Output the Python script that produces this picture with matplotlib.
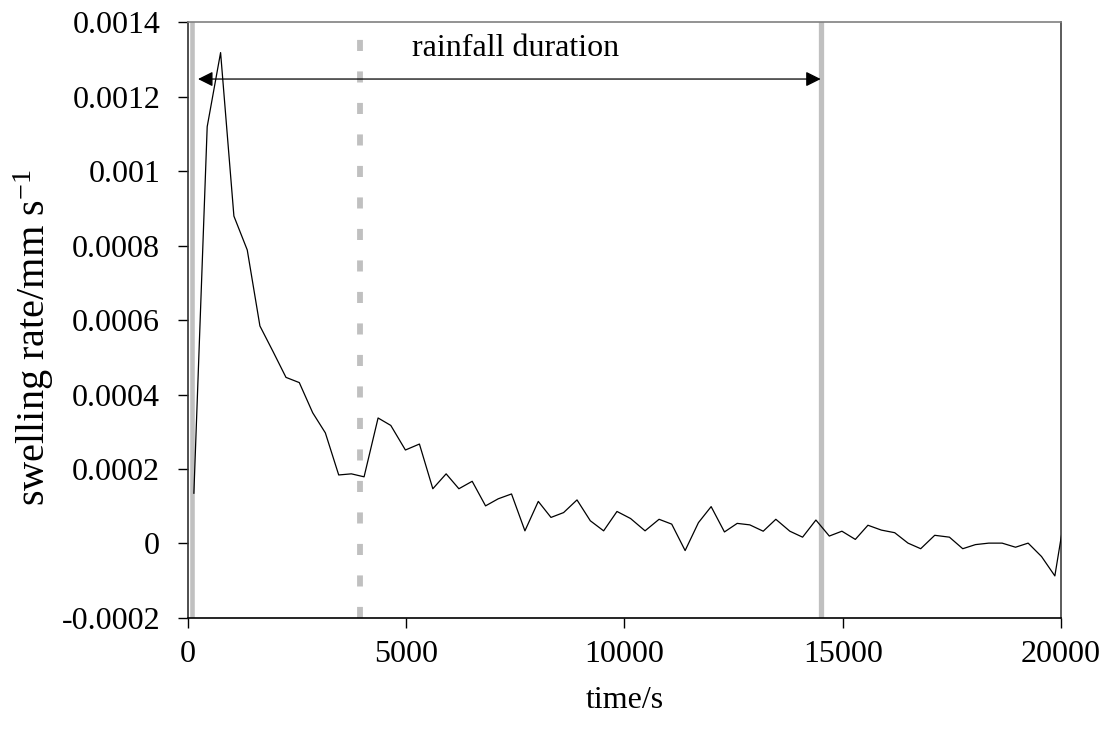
# swelling rate against time, with the rainfall period marked

import matplotlib
matplotlib.use('Agg')
import matplotlib.pyplot as plt

plt.rcParams['font.family'] = ['Liberation Serif', 'DejaVu Serif']
plt.rcParams['mathtext.fontset'] = 'custom'
plt.rcParams['mathtext.rm'] = 'Liberation Serif'
plt.rcParams['mathtext.it'] = 'Liberation Serif:italic'

# data
time_s = [135, 440, 747, 1052, 1358, 1648, 1950, 2245, 2550, 2857, 3147, 3453, 3743, 4034,
          4355, 4646, 4981, 5302, 5609, 5914, 6206, 6511, 6817, 7107, 7412, 7719, 8025, 8316,
          8605, 8912, 9217, 9522, 9828, 10140, 10471, 10792, 11082, 11389, 11694, 11985,
          12290, 12582, 12871, 13178, 13467, 13788, 14080, 14385, 14692, 14981, 15288, 15577,
          15884, 16190, 16495, 16786, 17107, 17444, 17749, 18040, 18345, 18651, 18958, 19247,
          19554, 19859, 20165]
swelling = [0.000135, 0.001119, 0.001318, 0.000879, 0.000788, 0.000584, 0.000515, 0.000446,
            0.000432, 0.000351, 0.000297, 0.000184, 0.000187, 0.000179, 0.000337, 0.000317,
            0.000251, 0.000267, 0.000147, 0.000187, 0.000147, 0.000167, 0.000101, 0.000120,
            0.000133, 0.000034, 0.000113, 0.000070, 0.000083, 0.000117, 0.000061, 0.000034,
            0.000086, 0.000067, 0.000034, 0.000065, 0.000052, -0.000019, 0.000056, 0.000099,
            0.000031, 0.000054, 0.000050, 0.000033, 0.000065, 0.000033, 0.000017, 0.000063,
            0.000020, 0.000033, 0.000011, 0.000049, 0.000036, 0.000029, 0.000001, -0.000014,
            0.000022, 0.000017, -0.000014, -0.000003, 0.000001, 0.000001, -0.000010, 0.000001,
            -0.000035, -0.000087, 0.000132]

rain_start = 100          # solid grey line
rain_mark = 3930          # dashed grey line
rain_end = 14500          # solid grey line
arrow_from = 230
arrow_to = 14495
arrow_y = 0.001247

x_ticks = [0, 5000, 10000, 15000, 20000]
y_ticks = [-0.0002, 0, 0.0002, 0.0004, 0.0006, 0.0008, 0.001, 0.0012, 0.0014]
y_tick_labels = ['-0.0002', '0', '0.0002', '0.0004', '0.0006', '0.0008', '0.001', '0.0012', '0.0014']

fig = plt.figure(figsize=(11.11, 7.35), dpi=100)
ax = fig.add_axes([0.1692, 0.1592, 0.7858, 0.8108])

grey = '#c0c0c0'
ax.axvline(rain_start, color=grey, linewidth=3.3, zorder=1)
ax.axvline(rain_end, color=grey, linewidth=3.8, zorder=1)
ax.axvline(rain_mark, color=grey, linewidth=4.2, linestyle=(0, (1.9, 3.5)), zorder=1)

ax.plot(time_s, swelling, color='black', linewidth=0.9, zorder=3)

ax.annotate('', xy=(arrow_from, arrow_y), xytext=(arrow_to, arrow_y),
            arrowprops=dict(arrowstyle='<|-|>,head_length=0.6,head_width=0.3',
                            mutation_scale=15, color='black', linewidth=0.9,
                            shrinkA=0, shrinkB=0), zorder=4)
ax.text(7510, 0.00133, 'rainfall duration', ha='center', va='center', fontsize=23)

ax.set_xlim(0, 20000)
ax.set_ylim(-0.0002, 0.0014)
ax.set_xticks(x_ticks)
ax.set_xticklabels([str(v) for v in x_ticks])
ax.set_yticks(y_ticks)
ax.set_yticklabels(y_tick_labels)
ax.tick_params(direction='out', length=7, width=1, labelsize=23)
ax.tick_params(axis='x', pad=9)
ax.tick_params(axis='y', pad=13)

ax.set_xlabel('time/s', fontsize=23, labelpad=12)
ax.set_ylabel('swelling rate/mm s$^{-1}$', fontsize=29)
ax.yaxis.set_label_coords(-0.151, 0.47)

ax.spines['top'].set_color('#808080')
ax.spines['right'].set_color('#404040')
ax.spines['left'].set_color('#303030')
ax.spines['bottom'].set_color('black')
for s in ax.spines.values():
    s.set_linewidth(1.2)

plt.savefig('out.png', dpi=100)
